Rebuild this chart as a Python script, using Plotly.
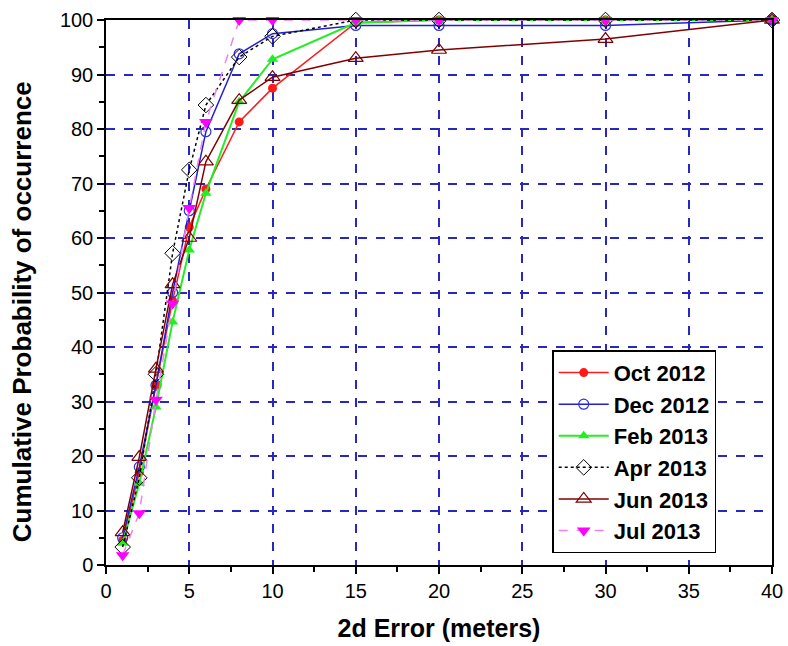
import plotly.graph_objects as go

x_vals = [1, 2, 3, 4, 5, 6, 8, 10, 15, 20, 30, 40]
oct_2012 = [4.5, 17, 33, 48.5, 62, 69, 81.3, 87.5, 99.5, 100, 100, 100]
dec_2012 = [5, 18, 33, 50, 65, 79.5, 93.8, 97.5, 99, 99, 99, 100]
feb_2013 = [4, 15, 29, 44.6, 57.8, 68.2, 85, 92.8, 99.5, 100, 100, 100]
apr_2013 = [3.3, 16, 35, 57.2, 72.5, 84.4, 93.2, 97, 100, 100, 100, 100]
jun_2013 = [6, 19.8, 36, 51.5, 60, 74, 85.3, 89.5, 93, 94.5, 96.5, 100]
jul_2013 = [1.8, 9.5, 30.3, 48, 65.5, 81.3, 100, 100, 100, 100, 100, 100]

series = [
    ("Oct 2012", oct_2012, dict(color="#ff1a1a", width=1.5, dash="solid"),
     dict(symbol="circle", color="#ff1a1a", size=9)),
    ("Dec 2012", dec_2012, dict(color="#2020d0", width=1.5, dash="solid"),
     dict(symbol="circle-open", color="#3030e0", size=10, line=dict(width=1.2))),
    ("Feb 2013", feb_2013, dict(color="#22ee22", width=2, dash="solid"),
     dict(symbol="triangle-up", color="#22ee22", size=10)),
    ("Apr 2013", apr_2013, dict(color="#000000", width=1.5, dash="dot"),
     dict(symbol="diamond-open", color="#000000", size=12, line=dict(width=1))),
    ("Jun 2013", jun_2013, dict(color="#800000", width=1.5, dash="solid"),
     dict(symbol="triangle-up-open", color="#800000", size=13, line=dict(width=1.2))),
    ("Jul 2013", jul_2013, dict(color="#ee82ee", width=1.5, dash="dash"),
     dict(symbol="triangle-down", color="#ff00ff", size=12)),
]

fig = go.Figure()
for i, (name, yv, ln, mk) in enumerate(series):
    fig.add_trace(go.Scatter(x=x_vals, y=yv, name=name, mode="lines+markers",
                             line=ln, marker=mk, cliponaxis=False))

FONT = "Liberation Sans, Arial"
axis_common = dict(
    showline=True, linecolor="black", linewidth=1.5, mirror=True,
    ticks="outside", ticklen=7, tickwidth=1.5, tickcolor="black",
    showgrid=True, gridcolor="#2828c0", gridwidth=2, griddash="dash",
    zeroline=False, automargin=False,
    tickfont=dict(family=FONT, size=20, color="black"),
)

fig.update_xaxes(range=[0, 40], dtick=5, tick0=0,
                 minor=dict(dtick=2.5, ticks="outside", ticklen=5, tickcolor="black", showgrid=False),
                 title=dict(text="2d Error (meters)", font=dict(family=FONT, size=25, weight="bold", color="black"), standoff=19),
                 **axis_common)
fig.update_yaxes(range=[0, 100], dtick=10, tick0=0,
                 minor=dict(dtick=5, ticks="outside", ticklen=5, tickcolor="black", showgrid=False),
                 **axis_common)

fig.add_annotation(text="Cumulative Probability of occurrence", textangle=-90,
                   xref="paper", yref="paper", x=-0.126, y=0.464,
                   xanchor="center", yanchor="middle", showarrow=False,
                   font=dict(family=FONT, size=26, weight="bold", color="black"))

fig.update_layout(
    width=788, height=646,
    margin=dict(l=106, r=16, t=20, b=81),
    paper_bgcolor="white", plot_bgcolor="white",
    legend=dict(x=0.67, y=0.394, xanchor="left", yanchor="top",
                bordercolor="black", borderwidth=1.5, bgcolor="white",
                font=dict(family=FONT, size=22, weight="bold", color="black"),
                itemwidth=50),
    showlegend=True,
)

fig.write_html("out.html")
